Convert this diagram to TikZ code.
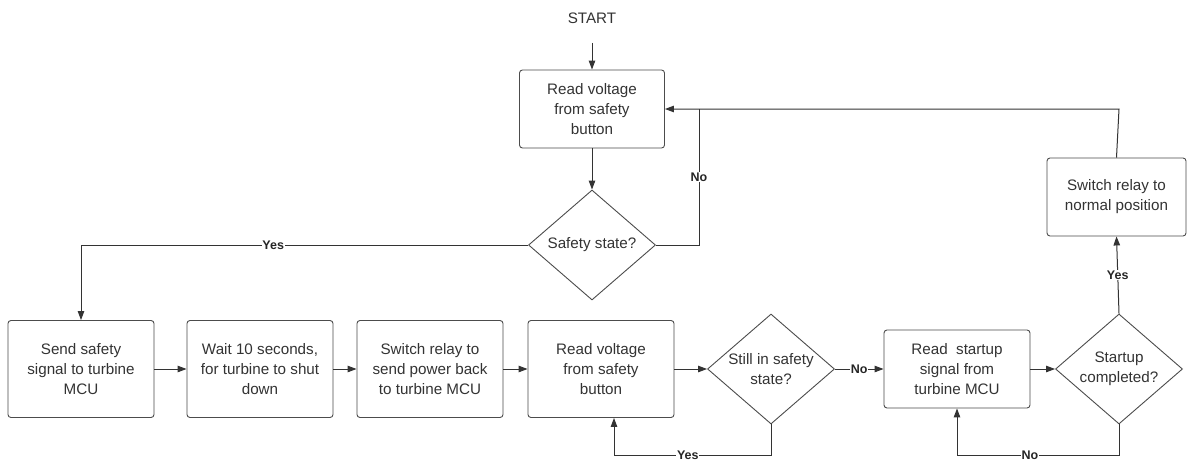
\documentclass[tikz,border=0pt]{standalone}
\usepackage{fontspec}
\setmainfont{Liberation Sans}
\usetikzlibrary{shapes.geometric,arrows.meta}
\begin{document}
\begin{tikzpicture}[x=1pt,y=-1pt,
  txt/.style={font=\fontsize{15.2}{20}\selectfont, align=center, text=black!80},
  box/.style={txt, draw=black!70, line width=0.9pt, rounded corners=3pt, inner sep=2pt},
  dec/.style={txt, draw=black!70, line width=0.9pt, shape=diamond, inner sep=0pt, aspect=1.15},
  conn/.style={draw=black!80, line width=1pt},
  arr/.style={conn, -{Triangle[length=9pt,width=6.5pt]}},
  lab/.style={font=\bfseries\fontsize{12.5}{14}\selectfont, fill=white, inner sep=0.8pt, text=black!85}
]
\useasboundingbox (0,0) rectangle (1188,460);
\fill[white] (0,0) rectangle (1188,460);

\node[txt] (start) at (592,18) {START};
\coordinate (s0) at (592,43);
\node[box, minimum width=145pt, minimum height=78pt] (r1) at (592,109) {Read voltage\\from safety\\button};
\node[dec, minimum width=127pt, minimum height=110pt] (d1) at (592,245) {Safety state?};

\node[box, minimum width=146pt, minimum height=97pt] (b1) at (81,369) {Send safety\\signal to turbine\\MCU};
\node[box, minimum width=146pt, minimum height=97pt] (b2) at (260,369) {Wait 10 seconds,\\for turbine to shut\\down};
\node[box, minimum width=146pt, minimum height=97pt] (b3) at (430,369) {Switch relay to\\send power back\\to turbine MCU};
\node[box, minimum width=146pt, minimum height=97pt] (b4) at (601,369) {Read voltage\\from safety\\button};
\node[dec, minimum width=127pt, minimum height=110pt] (d2) at (771,369) {Still in safety\\state?};
\node[box, minimum width=146pt, minimum height=78pt] (b5) at (957,369) {Read\ \ startup\\signal from\\turbine MCU};
\node[dec, minimum width=127pt, minimum height=110pt] (d3) at (1119,369) {Startup\\completed?};
\node[box, minimum width=139pt, minimum height=78pt] (b6) at (1116.5,197) {Switch relay to\\normal position};

\coordinate (j1) at (699,109);
\coordinate (j2) at (1119,109);
\coordinate (y1) at (771,455);
\coordinate (n1) at (1119,455);

\draw[arr] (s0) -- (r1.north);
\draw[arr] (r1.south) -- (d1.north);
\draw[conn] (d1.east) -| node[lab, pos=0.75] {No} (j1);
\draw[arr] (b6.north) -- (j2) -- (r1.east);
\draw[arr] (d1.west) -- node[lab, pos=0.57] {Yes} (d1.west -| b1.north) -- (b1.north);

\draw[arr] (b1) -- (b2);
\draw[arr] (b2) -- (b3);
\draw[arr] (b3) -- (b4);
\draw[arr] (b4) -- (d2);
\draw[arr] (d2) -- node[lab] {No} (b5);
\draw[arr] (b5) -- (d3);
\draw[arr] (d3.north) -- node[lab] {Yes} (b6.south);

\draw[arr] (d2.south) -- (y1) -- node[lab, pos=0.53] {Yes} ([xshift=13pt]b4.south |- y1) -- ([xshift=13pt]b4.south);
\draw[arr] (d3.south) -- (n1) -- node[lab, pos=0.55] {No} (b5.south |- n1) -- (b5.south);
\end{tikzpicture}
\end{document}
